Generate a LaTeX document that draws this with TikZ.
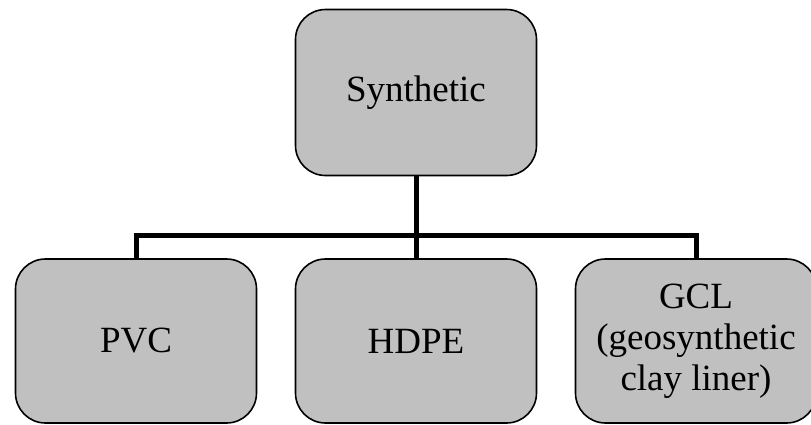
\documentclass[tikz,border=0pt]{standalone}
\usepackage{fontspec}
\setmainfont{Liberation Serif}
\definecolor{boxgray}{RGB}{192,192,192}
\begin{document}
\begin{tikzpicture}[x=1pt,y=-1pt,
  catbox/.style={draw=black, line width=1.6pt, fill=boxgray, rounded corners=30pt,
    minimum width=241pt, minimum height=166pt, inner sep=2pt, align=center,
    font=\fontsize{37}{41}\selectfont},
  link/.style={line width=5pt, line join=miter}]
  \clip (0,0) rectangle (811,424);
  \useasboundingbox (0,0) rectangle (811,424);
  % hierarchy boxes
  \node[catbox] (syn)  at (416,92.5) {Synthetic};
  \node[catbox, minimum height=164pt] (pvc)  at (136,341) {PVC};
  \node[catbox, minimum height=164pt] (hdpe) at (416,341) {HDPE};
  \node[catbox, minimum height=164pt] (gcl)  at (696,341) {GCL\\(geosynthetic\\clay liner)};
  % tree connectors
  \coordinate (bus) at (416,235);
  \draw[link] (syn.south) -- (bus);
  \draw[link] (pvc.north) |- (bus) -| (gcl.north);
  \draw[link] (bus) -- (hdpe.north);
\end{tikzpicture}
\end{document}
